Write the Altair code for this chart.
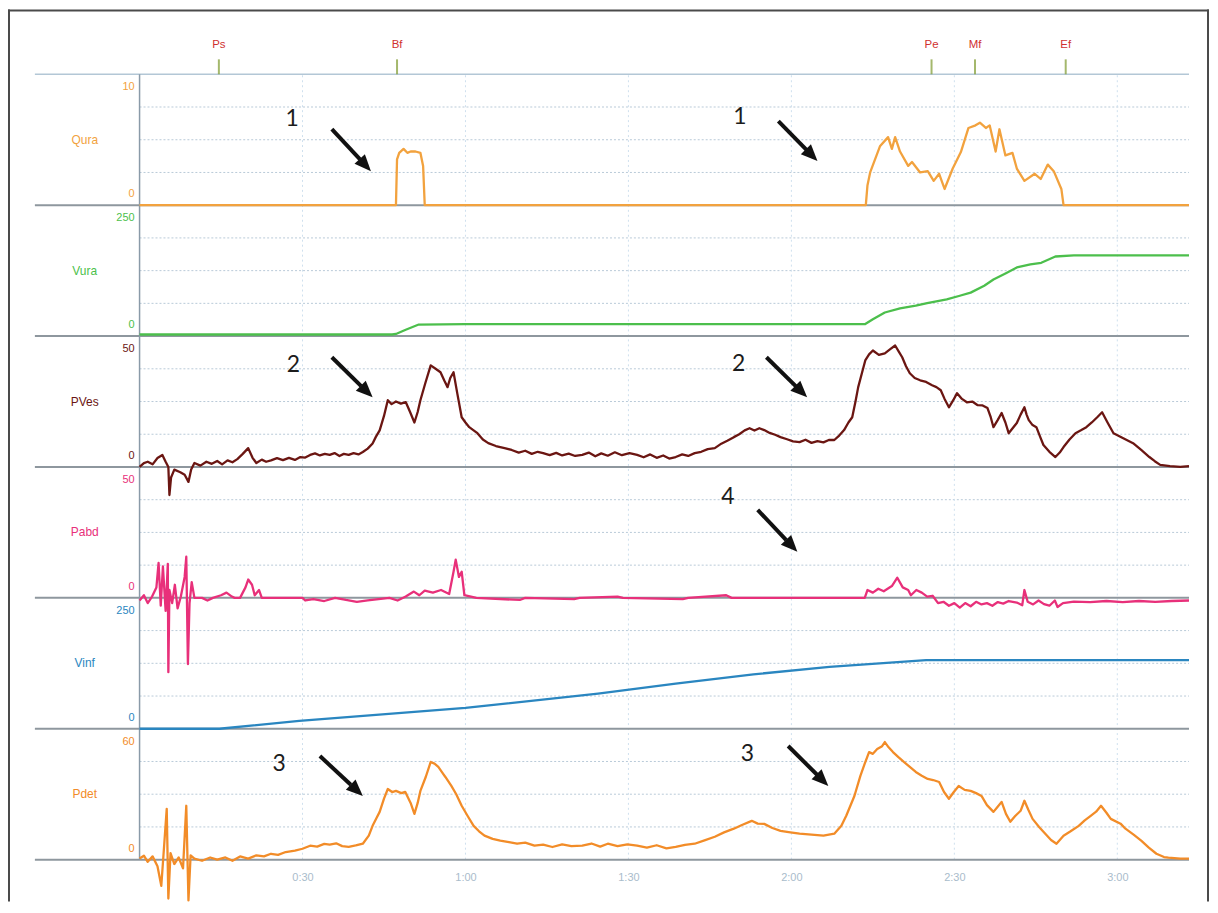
import math
import altair as alt
import pandas as pd

# ---------------- data ----------------
channels = ["Qura", "Vura", "PVes", "Pabd", "Vinf", "Pdet"]
full_scale = [10, 250, 50, 50, 250, 60]

qura_t = [0, 47.2, 47.4, 47.8, 48.6, 49.3, 49.9, 50.8, 51.7, 52.2, 52.5, 133.7, 134.0, 134.5, 136.3,
          137.8, 138.5, 139.1, 140.0, 141.5, 142.2, 143.7, 145.1, 146.2, 147.2, 148.2, 149.7, 151.2,
          152.6, 153.9, 154.7, 155.8, 156.5, 157.6, 158.3, 159.4, 160.7, 161.5, 162.9, 164.8, 165.9,
          167.2, 168.3, 169.7, 170.1, 193.2]
qura_v = [0, 0, 3.5, 4.0, 4.3, 4.0, 4.1, 4.1, 4.0, 3.0, 0, 0, 1.5, 2.5, 4.5,
          5.2, 4.3, 5.2, 4.1, 3.0, 3.3, 2.5, 2.6, 1.86, 2.4, 1.24, 2.8, 4.06,
          5.9, 6.1, 6.3, 5.9, 6.1, 4.1, 5.8, 3.8, 4.0, 2.8, 1.86, 2.4, 2.0,
          3.1, 2.6, 1.24, 0, 0]

vura_t = [0, 46.5, 47.2, 49.0, 51.4, 60, 90, 120, 133.6, 135.0, 137.2, 140.0, 142.9, 145.0, 148.6,
          151.0, 153.0, 155.5, 157.2, 159.5, 161.5, 164.0, 166.0, 168.6, 172.0, 180.0, 193.2]
vura_v = [3, 3, 4, 12, 22, 23, 23, 23, 23, 32, 45, 53, 58, 63, 70,
          77, 83, 96, 108, 120, 131, 137, 140, 152, 154, 154, 154]

pves_t = [0, 0.8, 1.5, 2.4, 3.3, 4.2, 4.8, 5.3, 5.5, 5.8, 6.4, 7.5, 8.3, 9.0, 9.5, 10.1, 11.2, 12.3,
          13.3, 14.3, 15.2, 16.2, 17.1, 18.0, 19.0, 20.0, 20.8, 21.5, 22.5, 23.3, 24.2, 25.3, 26.4,
          27.5, 28.6, 29.6, 30.5, 31.4, 32.3, 33.2, 34.1, 35.0, 35.9, 36.8, 37.6, 38.5, 39.4, 40.3,
          41.1, 42.0, 42.9, 43.5, 44.2, 45.0, 45.7, 46.4, 47.2, 48.1, 49.0, 49.8, 50.6, 51.2, 51.7,
          52.6, 53.6, 54.5, 55.4, 56.1, 56.7, 57.2, 57.8, 58.5, 59.3, 60.0, 60.7, 61.5, 62.2, 63.2,
          64.2, 65.6, 67.2, 68.5, 69.8, 71.0, 72.2, 73.3, 74.3, 75.5, 76.7, 77.8, 79.0, 80.2, 81.5,
          82.7, 83.9, 85.0, 86.2, 87.5, 88.8, 90.2, 91.6, 92.8, 94.0, 95.2, 96.4, 97.5, 98.7, 99.9,
          101.0, 102.2, 103.4, 104.6, 105.9, 107.1, 108.2, 109.4, 110.4, 111.4, 112.3, 113.2, 114.1,
          115.0, 116.0, 117.0, 118.0, 119.2, 120.3, 121.5, 122.6, 123.7, 124.8, 125.9, 126.9, 127.9,
          128.8, 129.7, 130.5, 131.2, 131.8, 132.3, 133.0, 133.6, 134.3, 135.0, 136.1, 137.2, 138.2,
          139.1, 139.8, 140.4, 141.1, 141.8, 142.7, 143.7, 144.8, 145.9, 146.7, 147.5, 148.2, 149.0,
          149.8, 150.5, 151.4, 152.3, 153.3, 154.3, 155.2, 156.1, 156.7, 157.2, 158.0, 158.7, 159.4,
          160.0, 160.8, 161.5, 162.2, 162.9, 163.3, 163.7, 164.4, 165.1, 165.8, 166.4, 167.5, 168.6,
          169.4, 170.1, 171.2, 172.3, 173.3, 174.3, 175.3, 176.3, 177.2, 178.2, 179.3, 181.1, 182.9,
          184.4, 185.9, 186.9, 187.9, 189.7, 191.6, 193.2]
pves_v = [0, 1.5, 2, 1, 3.4, 4.6, 2, 0, -10.7, -4, -1, -2, -3, -5.7, -1, 1.5, 0.5, 2,
          1.2, 2.3, 1, 2.5, 1.8, 3, 5, 7.2, 3.5, 1.5, 2.8, 2, 2.5, 3.4, 2.6,
          3.5, 2.7, 3.8, 3.6, 4.6, 5.2, 4.4, 5, 4.6, 5.3, 4.2, 5, 4.6, 5.3, 4.8,
          5.7, 7, 9, 11.5, 14, 19.5, 25.5, 24, 25, 24.2, 24.8, 21, 17, 21, 25.5,
          32, 38.8, 37.5, 36.2, 33, 30.5, 34, 36.2, 28, 19, 17, 15.2, 14, 12.9, 10.5,
          9.1, 8, 7.2, 6.5, 5.5, 6.2, 5, 5.8, 5.3, 4.5, 5.4, 4.4, 5.1, 4.2, 4.6,
          5.5, 4.1, 5.2, 4.3, 5.6, 4.5, 5.3, 4.6, 3.7, 4.8, 3.5, 4.4, 3.2, 3.8, 4.8,
          4.2, 5.3, 5.8, 6.8, 7.2, 8.9, 10, 11.4, 12.5, 14, 14.8, 13.9, 14.8,
          14.1, 13, 12.3, 11.4, 10.6, 9.8, 9.5, 10.4, 9.2, 9.9, 9.4, 10.3, 10.3,
          12, 14.1, 17, 19, 25, 30.5, 36, 40.7, 43, 44.5, 42.8, 43.4, 45,
          46.4, 44, 41.9, 38.5, 35.8, 34, 33.1, 32.5, 31.2, 30.5, 29.3, 26, 22.8,
          25.5, 28.2, 26, 24.7, 25, 23.6, 23.5, 22.5, 19, 15.2, 18, 20.6, 17,
          12.9, 15, 16.8, 20, 22.8, 20, 17.9, 16, 15.2, 11.5, 8.4, 5.8, 3.8,
          5.5, 7.6, 10.5, 12.9, 14, 15.2, 17, 19, 20.9, 17, 12.9, 11, 9.1,
          6.5, 3.8, 2.2, 0.8, 0.3, 0, 0.3]

pabd_t = [0, 0.8, 1.5, 2.3, 3.1, 3.5, 3.9, 4.3, 4.8, 5.2, 5.3, 5.5, 6.0, 6.5, 7.0, 7.6, 8.3, 8.6,
          8.9, 9.2, 9.6, 10.1, 11.5, 12.5, 13.5, 15.0, 16.0, 17.0, 17.5, 18.5, 19.5, 20.0, 20.7,
          21.2, 22.0, 22.5, 30.0, 30.5, 32.0, 34.0, 36.0, 38.0, 40.0, 42.0, 44.0, 46.0, 47.5,
          49.0, 50.5, 51.5, 52.5, 54.0, 55.5, 57.0, 57.8, 58.2, 58.8, 59.3, 59.8, 61.0, 62.0,
          70.0, 71.0, 80.0, 81.0, 88.0, 89.0, 100.0, 101.0, 108.0, 109.0, 133.5, 134.0, 135.0,
          136.0, 137.0, 138.5, 139.5, 140.5, 141.5, 142.0, 143.0, 144.0, 145.0, 146.0, 147.0,
          148.0, 149.0, 150.0, 151.0, 152.0, 153.0, 154.0, 155.0, 156.0, 157.0, 158.0, 159.0,
          160.0, 161.5, 162.5, 162.9, 163.5, 164.5, 165.5, 166.5, 167.5, 168.5, 169.0, 170.0,
          172.0, 175.0, 178.0, 181.0, 184.0, 187.0, 190.0, 193.2]
pabd_v = [-1, 1, -2, 0.5, 4, 13.4, -3, 12, -5, 13, -28.4, 3, -2, 5, -4, 0.5, 8, 15.7,
          -25.3, -2, 6, 0, 0, -1, 0, 1, 2, 0.5, 0, 0, 4, 7, 5,
          1, 3, 0, 0, -1, -0.5, -1.2, 0, -0.8, -1.5, -1, -0.5, 0, -1,
          0.5, 2.4, 1, 2.8, 2, 3, 1.5, 10, 14.6, 8, 10, 1, 0.5, 0,
          -0.8, 0, -0.5, 0, 0.5, 0, -0.5, 0, 1, 0, 0, 3, 2,
          3.5, 2.5, 4.5, 7.7, 4, 3, 1, 3, 2, 0.5, 0.8, -2,
          -1.5, -3, -2, -3.7, -2, -3.2, -1.5, -2.5, -2, -3, -1.6, -2.2,
          -1.2, -1.8, -2.8, 3, -1.5, -2.5, -1, -2.4, -3, -1, -3.5, -2,
          -1.4, -1.6, -1.2, -1.6, -1.2, -1.5, -1.2, -1]

vinf_t = [0, 14.7, 29.4, 60.0, 84.4, 98.7, 113.0, 127.0, 144.8, 193.2]
vinf_v = [0, 0, 15, 40, 67, 86, 104, 118, 131, 131]

pdet_t = [0, 0.8, 1.5, 2.4, 3.3, 4.0, 4.4, 5.0, 5.3, 5.7, 6.4, 7.2, 8.0, 8.6, 9.0, 9.4, 10.1, 11.5,
          13.0, 14.3, 15.8, 17.1, 18.5, 20.0, 21.5, 22.9, 24.2, 25.5, 26.9, 28.6, 30.0, 31.4, 32.7,
          34.0, 35.0, 36.2, 37.3, 38.5, 39.8, 41.1, 42.2, 42.9, 43.6, 44.2, 45.0, 45.7, 46.5, 47.2,
          48.2, 48.9, 49.9, 50.6, 51.2, 51.7, 52.7, 53.6, 54.3, 55.0, 55.7, 56.3, 57.4, 58.3, 59.3,
          60.4, 61.5, 62.5, 63.5, 65.0, 66.4, 68.0, 69.5, 71.0, 72.7, 74.3, 76.0, 77.8, 79.5, 81.5,
          83.2, 84.8, 86.2, 88.0, 89.8, 91.6, 93.4, 95.2, 97.0, 98.7, 100.4, 102.2, 104.0, 105.9,
          107.6, 109.4, 111.0, 112.7, 113.8, 115.0, 116.5, 118.0, 119.8, 121.5, 123.7, 125.9, 127.9,
          129.2, 130.1, 131.6, 132.7, 133.5, 134.3, 135.0, 135.8, 136.7, 137.2, 137.9, 138.7, 139.7,
          140.7, 141.8, 142.9, 144.0, 145.1, 146.1, 147.2, 148.1, 149.0, 149.9, 150.8, 151.9, 153.0,
          154.0, 155.0, 156.0, 157.2, 157.9, 158.7, 159.5, 160.3, 161.2, 162.2, 162.9, 163.6, 164.4,
          165.6, 166.4, 167.8, 168.8, 170.1, 171.4, 172.9, 174.0, 175.1, 176.1, 177.0, 178.0, 178.8,
          180.6, 181.5, 183.0, 184.4, 185.8, 187.2, 188.6, 189.4, 191.6, 193.2]
pdet_v = [0.5, 1.8, -1, 1.5, -3, -12, 2, 23.3, -17.8, 3, -2, 1, -4, 24.7, -18.7, 2, 0.5, -0.5,
          1, 0, 1, -0.5, 1.5, 0.5, 2, 1.5, 2.7, 2.2, 3.5, 4.1, 5, 6.4, 6,
          7.2, 6.9, 7.5, 6.2, 5.9, 6.5, 7.3, 11, 15.5, 19, 21.9, 28, 32.4, 31, 31.5,
          30.5, 31.1, 26, 21, 26, 31.5, 38, 44.8, 44, 42.5, 40, 37.9, 33.8, 30, 24.7,
          20, 15.5, 13, 11, 9.5, 8.7, 8, 7.3, 7.8, 6.4, 6.9, 5.8, 7, 6.2, 6.4,
          7.4, 6, 7.3, 6.2, 7, 6.4, 5.5, 6.6, 5.2, 5.9, 6.8, 7.3, 8.8, 10.5,
          12.5, 14.2, 16, 17.8, 16.5, 16.4, 14.5, 13.2, 12.5, 11.9, 11.5, 11, 11.9,
          15.5, 20.1, 29.2, 38.4, 44, 49.3, 48.5, 50.7, 52, 53.9, 51.5, 49.3, 47,
          44.8, 42.5, 40.2, 38.5, 37, 36.5, 35.6, 31, 27.9, 31, 33.8, 32, 31.5,
          30.5, 29.2, 25, 21.9, 24, 26.5, 21, 17.4, 20, 22.4, 27, 23, 18.7,
          15, 12.8, 9, 7.3, 11, 13, 15.5, 18, 20.1, 22, 24.7, 21.5, 18.7,
          16.5, 14.2, 11.5, 8.7, 5.5, 2.7, 1.2, 0.9, 0.5, 0.5]

event_names = ["Ps", "Bf", "Pe", "Mf", "Ef"]
event_times = [14.6, 47.4, 145.8, 153.8, 170.5]

time_ticks = [30, 60, 90, 120, 150, 180]

# annotations: number, channel, label (t, value), arrow tail (t, value), arrow head (t, value)
ann_num = ["1", "1", "2", "2", "4", "3", "3"]
ann_channel = ["Qura", "Qura", "PVes", "PVes", "Pabd", "Pdet", "Pdet"]
ann_label_t = [28.1, 110.5, 28.3, 110.3, 108.3, 25.7, 111.9]
ann_label_v = [6.57, 6.72, 38.8, 39.2, 38.6, 43.9, 48.4]
ann_tail_t = [35.4, 117.6, 35.4, 115.4, 113.8, 33.2, 119.4]
ann_tail_v = [5.81, 6.42, 41.9, 41.9, 33.6, 47.5, 52.1]
ann_head_t = [42.6, 124.8, 42.9, 122.9, 121.1, 41.1, 126.8]
ann_head_v = [2.60, 3.37, 26.6, 26.6, 17.6, 29.2, 33.8]

T_END = 193.2

# ---------------- styles / layout ----------------
line_color = {"Qura": "#f2a23e", "Vura": "#4cbf4c", "PVes": "#6b1612", "Pabd": "#e8307a",
              "Vinf": "#2a86c0", "Pdet": "#f28c28"}
name_color = {"Qura": "#e8993a", "Vura": "#52b852", "PVes": "#5a2a2a", "Pabd": "#e0408c",
              "Vinf": "#3a9ad0", "Pdet": "#f0a050"}
tick_color = {"Qura": "#f0b070", "Vura": "#5cc05c", "PVes": "#9a5450", "Pabd": "#e05a9a",
              "Vinf": "#4aa2d4", "Pdet": "#f0a860"}

W, H = 1206, 895
PX_PER_S = 5.45
T0_PX = 132.0          # chart x of time zero
PANEL_PX = 131.33      # height of one channel band
U0_PX = 853.0          # chart y of the lowest baseline
X_DOM = [-T0_PX / PX_PER_S, (W - T0_PX) / PX_PER_S]
Y_DOM = [-(H - U0_PX) / PANEL_PX, U0_PX / PANEL_PX]
SEP_LEFT = -19.27
FONT = "Liberation Sans"

XS = alt.Scale(domain=X_DOM, nice=False, zero=False)
YS = alt.Scale(domain=Y_DOM, nice=False, zero=False)
XAX = alt.Axis(values=time_ticks, offset=-(H - U0_PX), domain=False, ticks=False, grid=False,
               labelExpr="floor(datum.value/60) + ':' + (datum.value % 60 == 0 ? '00' : '30')",
               labelColor="#a9bccb", labelFont=FONT, labelFontSize=11, labelPadding=12, title=None)


def X(f):
    return alt.X(f, type="quantitative", scale=XS, axis=XAX)


def Y(f):
    return alt.Y(f, type="quantitative", scale=YS, axis=None)


base = {c: 5 - i for i, c in enumerate(channels)}
fs = dict(zip(channels, full_scale))


def u(ch, v):
    return base[ch] + v / fs[ch]


series = {"Qura": (qura_t, qura_v), "Vura": (vura_t, vura_v), "PVes": (pves_t, pves_v),
          "Pabd": (pabd_t, pabd_v), "Vinf": (vinf_t, vinf_v), "Pdet": (pdet_t, pdet_v)}
rows = []
for ch, (ts, vs) in series.items():
    for i, (t, v) in enumerate(zip(ts, vs)):
        rows.append({"ch": ch, "t": t, "u": u(ch, v), "i": i})
traces = pd.DataFrame(rows)

grid_df = pd.DataFrame([{"t": 0, "t2": T_END, "u": u(c, fs[c] * q)} for c in channels for q in (0.25, 0.5, 0.75)])
sep_df = pd.DataFrame([{"t": SEP_LEFT, "t2": T_END, "u": float(b)} for b in range(6)])
top_df = pd.DataFrame([{"t": SEP_LEFT, "t2": T_END, "u": 6.0}])
vgrid_df = pd.DataFrame([{"t": t, "u": 0.0, "u2": 6.0} for t in time_ticks])
axis_df = pd.DataFrame([{"t": 0, "u": 0.0, "u2": 6.0}])
top_lab = pd.DataFrame([{"ch": c, "t": 0, "u": u(c, fs[c]), "lab": str(fs[c])} for c in channels])
zero_lab = pd.DataFrame([{"ch": c, "t": 0, "u": u(c, 0), "lab": "0"} for c in channels])
name_lab = pd.DataFrame([{"ch": c, "t": 0, "u": u(c, fs[c] / 2), "lab": c} for c in channels])
ev_df = pd.DataFrame({"name": event_names, "t": event_times, "u": [6.0] * len(event_names)})

ann_rows, arr_rows = [], []
for k in range(len(ann_num)):
    c = ann_channel[k]
    ann_rows.append({"lab": ann_num[k], "t": ann_label_t[k], "u": u(c, ann_label_v[k])})
    ta, ua = ann_tail_t[k], u(c, ann_tail_v[k])
    th, uh = ann_head_t[k], u(c, ann_head_v[k])
    dx = (th - ta) * PX_PER_S
    dy = -(uh - ua) * PANEL_PX
    ang = math.degrees(math.atan2(dx, -dy)) % 360
    arr_rows.append({"t": ta, "u": ua, "t2": ta + 0.72 * (th - ta), "u2": ua + 0.72 * (uh - ua),
                     "th": th, "uh": uh, "ang": ang})
ann_df = pd.DataFrame(ann_rows)
arr_df = pd.DataFrame(arr_rows)

one = pd.DataFrame({"k": [0]})

ch_color = lambda cmap: alt.Color("ch:N", scale=alt.Scale(domain=channels, range=[cmap[c] for c in channels]), legend=None)

layers = [
    alt.Chart(grid_df).mark_rule(color="#b9cad8", strokeWidth=1, strokeDash=[2, 2]).encode(
        x=X("t"), x2="t2", y=Y("u")),
    alt.Chart(vgrid_df).mark_rule(color="#cfe0ee", strokeWidth=1, strokeDash=[2, 3]).encode(
        x=X("t"), y=Y("u"), y2="u2"),
    alt.Chart(sep_df).mark_rule(color="#8e979e", strokeWidth=2).encode(x=X("t"), x2="t2", y=Y("u")),
    alt.Chart(top_df).mark_rule(color="#b3c7d6", strokeWidth=1.5).encode(x=X("t"), x2="t2", y=Y("u")),
    alt.Chart(axis_df).mark_rule(color="#8a9aa8", strokeWidth=1.5).encode(x=X("t"), y=Y("u"), y2="u2"),
    alt.Chart(traces).mark_line(strokeWidth=2.3, strokeJoin="round").encode(
        x=X("t"), y=Y("u"), color=ch_color(line_color), detail="ch:N", order="i:Q"),
    alt.Chart(top_lab).mark_text(align="right", dx=-5, dy=13, font=FONT, fontSize=11).encode(
        x=X("t"), y=Y("u"), text="lab:N", color=ch_color(tick_color)),
    alt.Chart(zero_lab).mark_text(align="right", dx=-5, dy=-11, font=FONT, fontSize=11).encode(
        x=X("t"), y=Y("u"), text="lab:N", color=ch_color(tick_color)),
    alt.Chart(name_lab).mark_text(align="center", dx=-55, font=FONT, fontSize=12).encode(
        x=X("t"), y=Y("u"), text="lab:N", color=ch_color(name_color)),
    alt.Chart(ev_df).mark_tick(orient="vertical", size=15, thickness=2, yOffset=-7.5, color="#7d9a2e").encode(
        x=X("t"), y=Y("u")),
    alt.Chart(ev_df).mark_text(dy=-29, font=FONT, fontSize=11.5, color="#d03030").encode(
        x=X("t"), y=Y("u"), text="name:N"),
    alt.Chart(ann_df).mark_text(font="Lato", fontSize=23, color="#1c1c1c").encode(
        x=X("t"), y=Y("u"), text="lab:N"),
    alt.Chart(arr_df).mark_rule(color="#111111", strokeWidth=4).encode(
        x=X("t"), x2="t2", y=Y("u"), y2="u2"),
    alt.Chart(arr_df).mark_point(shape="M0,0L-0.75,1.75L0.75,1.75Z", filled=True, size=360,
                                 color="#111111", opacity=1).encode(
        x=X("th"), y=Y("uh"), angle=alt.Angle("ang:Q", scale=None)),
    alt.Chart(one).mark_rule(color="#4a4a4a", strokeWidth=2).encode(
        x=alt.value(1), y=alt.value(0), y2=alt.value(H)),
    alt.Chart(one).mark_rule(color="#4a4a4a", strokeWidth=2).encode(
        x=alt.value(W - 2), y=alt.value(0), y2=alt.value(H)),
    alt.Chart(one).mark_rule(color="#4a4a4a", strokeWidth=2).encode(
        x=alt.value(0), x2=alt.value(W - 1), y=alt.value(1)),
]

chart = alt.layer(*layers).properties(
    width=W, height=H, padding=0, autosize=alt.AutoSizeParams(type="none"), background="white"
).configure_view(stroke=None)

chart.save("out.html", embed_options={"renderer": "svg", "actions": False})
